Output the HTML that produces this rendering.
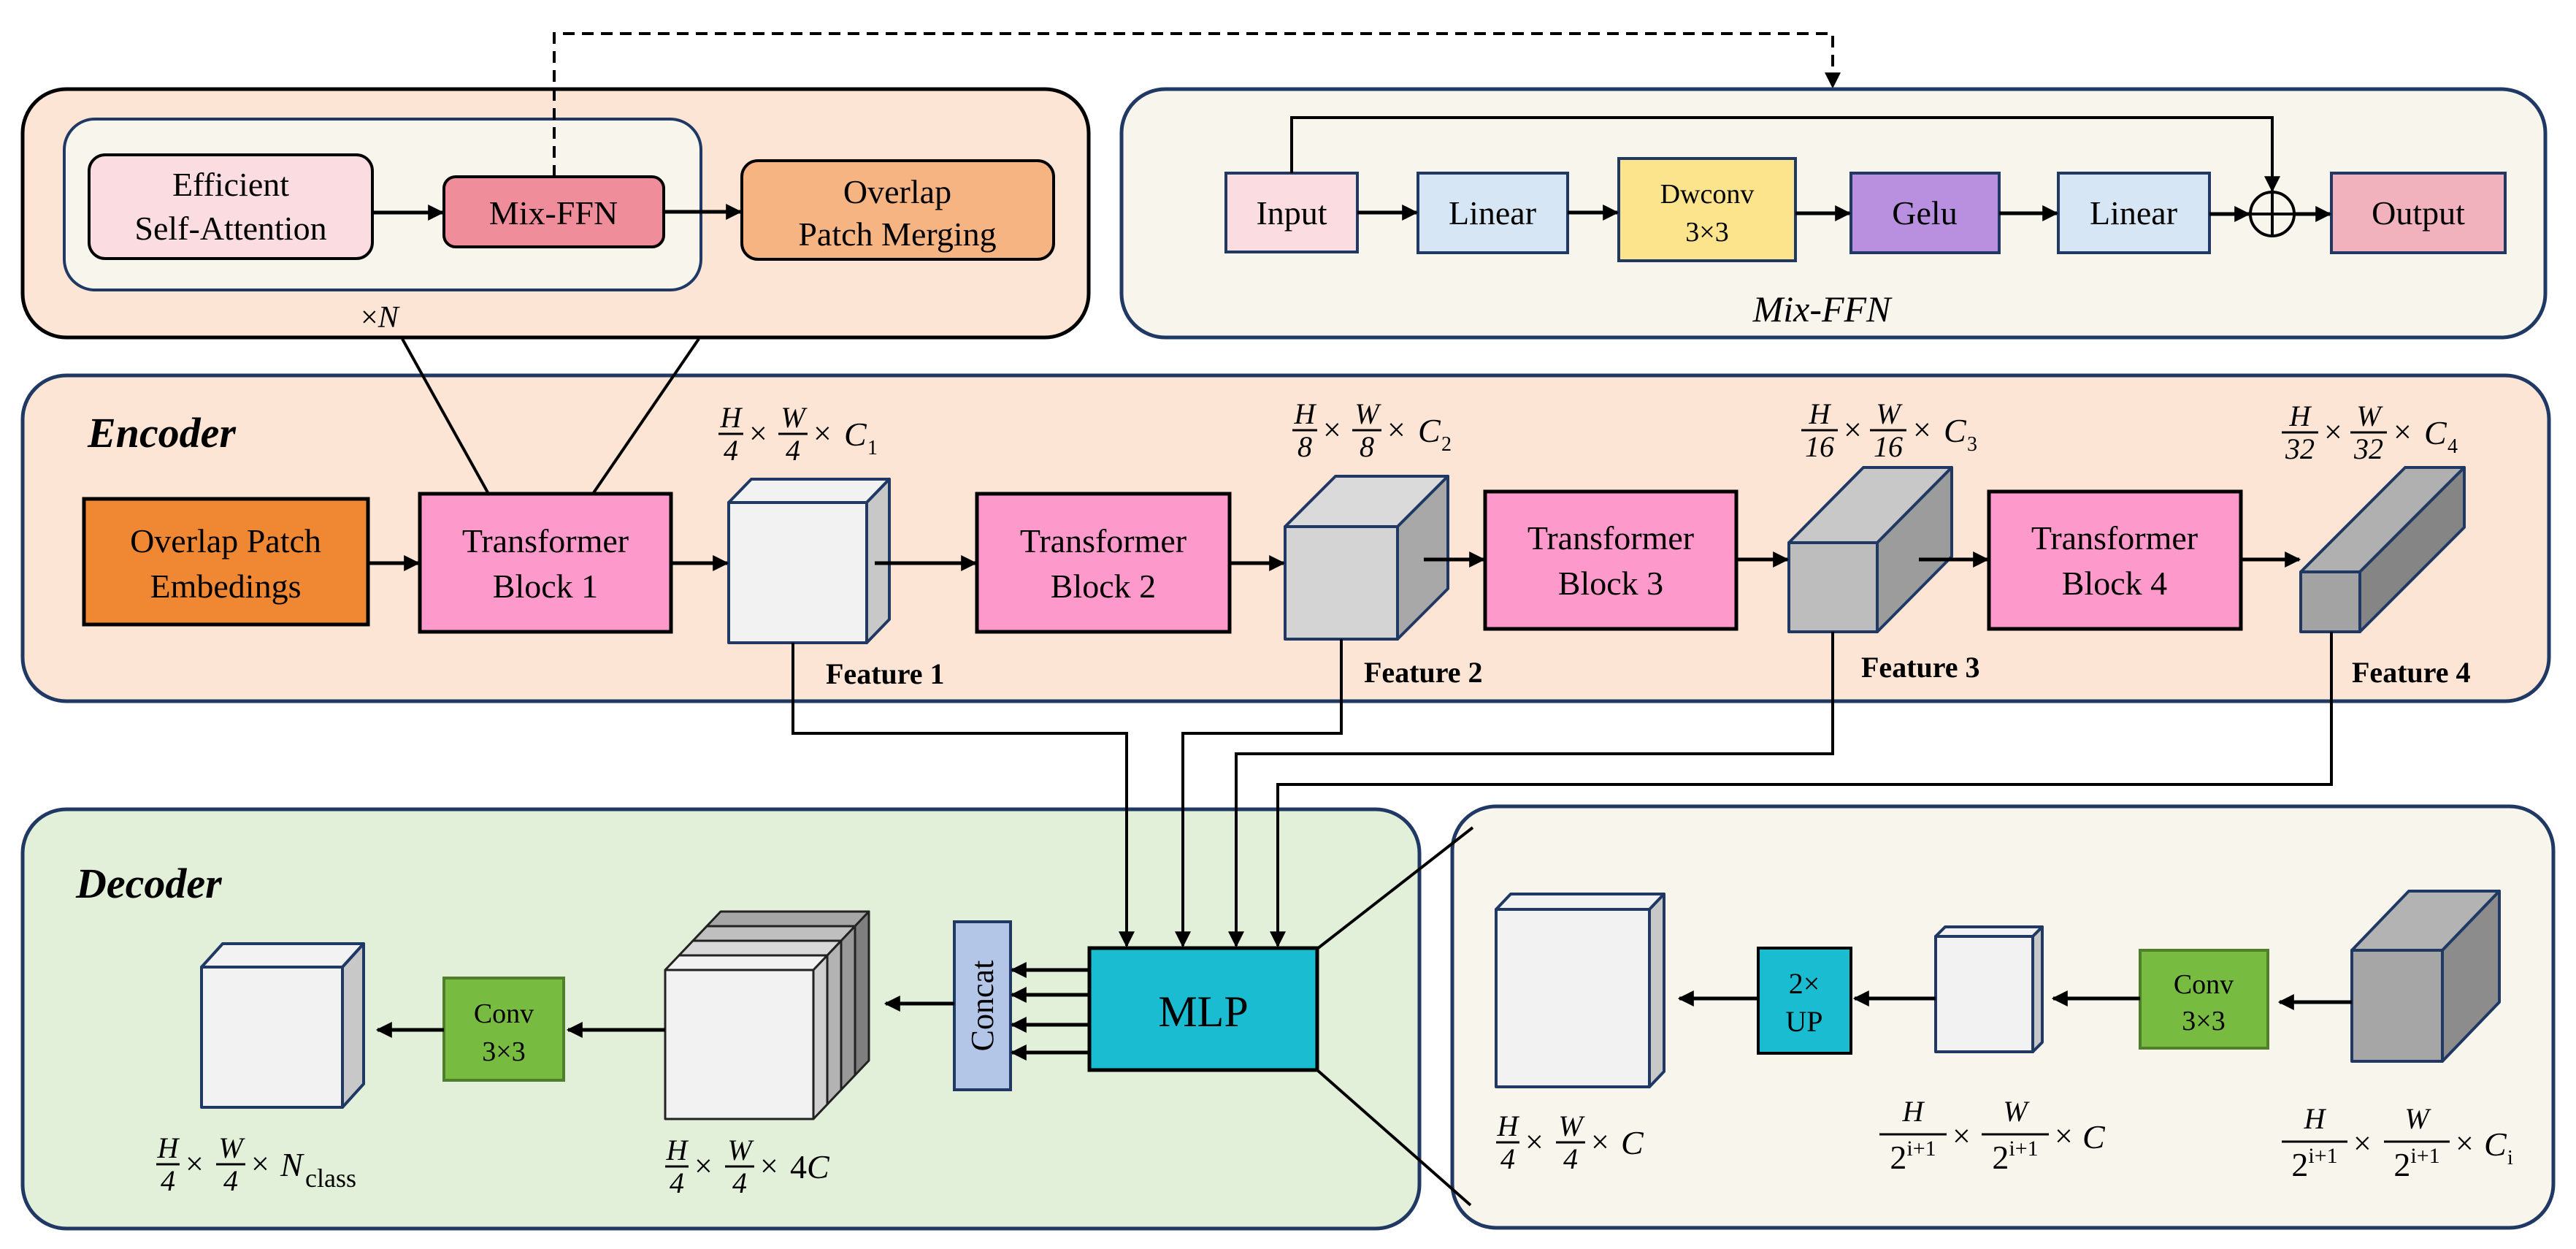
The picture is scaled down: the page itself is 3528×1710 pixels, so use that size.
<!DOCTYPE html>
<html><head><meta charset="utf-8"><style>
html,body{margin:0;padding:0;background:#fff}
svg{display:block;font-family:"Liberation Serif",serif}
text{font-family:"Liberation Serif",serif;fill:#000}
.b{font-size:46px}
.m{font-style:italic;font-size:40px}
.x{font-size:44px}
.c{font-style:italic;font-size:46px}
.s{font-size:28px}
.f{font-weight:bold;font-size:40px}
</style></head><body>
<svg width="3528" height="1710" viewBox="0 0 3528 1710" xmlns="http://www.w3.org/2000/svg" font-family="Liberation Serif, serif">
<defs>
<marker id="a" viewBox="0 0 10 10" refX="9" refY="5" markerWidth="22" markerHeight="22" markerUnits="userSpaceOnUse" orient="auto"><path d="M0,0 L10,5 L0,10 z" fill="#000"/></marker>
</defs>

<!-- Top-left block -->
<rect x="31" y="122" width="1460" height="340" rx="60" fill="#fce5d4" stroke="#000" stroke-width="5"/>
<rect x="88" y="163" width="872" height="234" rx="42" fill="#f8f5ec" stroke="#1f3864" stroke-width="4"/>
<rect x="122" y="212" width="388" height="142" rx="22" fill="#fbdce1" stroke="#000" stroke-width="4"/>
<text class="b" x="316" y="268" text-anchor="middle">Efficient</text>
<text class="b" x="316" y="328" text-anchor="middle">Self-Attention</text>
<rect x="608" y="242" width="301" height="96" rx="16" fill="#ef8d9b" stroke="#000" stroke-width="4"/>
<text class="b" x="758" y="307" text-anchor="middle">Mix-FFN</text>
<rect x="1016" y="220" width="427" height="135" rx="22" fill="#f6b482" stroke="#000" stroke-width="4"/>
<text class="b" x="1229" y="278" text-anchor="middle">Overlap</text>
<text class="b" x="1229" y="336" text-anchor="middle">Patch Merging</text>
<line x1="510" y1="291" x2="606" y2="291" stroke="#000" stroke-width="5" marker-end="url(#a)"/>
<line x1="909" y1="290" x2="1014" y2="290" stroke="#000" stroke-width="5" marker-end="url(#a)"/>
<text x="494" y="448" font-size="42">×<tspan font-style="italic">N</tspan></text>

<!-- dashed -->
<polyline points="759,242 759,46 2510,46 2510,119" fill="none" stroke="#000" stroke-width="4" stroke-dasharray="16,10" marker-end="url(#a)"/>

<!-- Mix-FFN block -->
<rect x="1536" y="122" width="1950" height="340" rx="60" fill="#f8f5ec" stroke="#1f3864" stroke-width="5"/>
<rect x="1679" y="237" width="180" height="108" fill="#fbdce1" stroke="#1f3864" stroke-width="4"/>
<text class="b" x="1769" y="307" text-anchor="middle">Input</text>
<rect x="1942" y="237" width="205" height="109" fill="#d6e6f5" stroke="#1f3864" stroke-width="4"/>
<text class="b" x="2044" y="307" text-anchor="middle">Linear</text>
<rect x="2217" y="217" width="242" height="140" fill="#fce48d" stroke="#1f3864" stroke-width="4"/>
<text x="2338" y="278" text-anchor="middle" font-size="38">Dwconv</text>
<text x="2338" y="330" text-anchor="middle" font-size="38">3×3</text>
<rect x="2535" y="237" width="203" height="109" fill="#b98fdf" stroke="#1f3864" stroke-width="4"/>
<text class="b" x="2636" y="307" text-anchor="middle">Gelu</text>
<rect x="2819" y="237" width="207" height="109" fill="#d6e6f5" stroke="#1f3864" stroke-width="4"/>
<text class="b" x="2922" y="307" text-anchor="middle">Linear</text>
<circle cx="3112" cy="293" r="30" fill="none" stroke="#000" stroke-width="4"/>
<line x1="3082" y1="293" x2="3142" y2="293" stroke="#000" stroke-width="4"/>
<line x1="3112" y1="263" x2="3112" y2="323" stroke="#000" stroke-width="4"/>
<rect x="3193" y="237" width="238" height="109" fill="#f2b2bd" stroke="#1f3864" stroke-width="4"/>
<text class="b" x="3312" y="307" text-anchor="middle">Output</text>
<line x1="1859" y1="291" x2="1940" y2="291" stroke="#000" stroke-width="5" marker-end="url(#a)"/>
<line x1="2147" y1="291" x2="2215" y2="291" stroke="#000" stroke-width="5" marker-end="url(#a)"/>
<line x1="2459" y1="292" x2="2533" y2="292" stroke="#000" stroke-width="5" marker-end="url(#a)"/>
<line x1="2738" y1="292" x2="2817" y2="292" stroke="#000" stroke-width="5" marker-end="url(#a)"/>
<line x1="3026" y1="293" x2="3080" y2="293" stroke="#000" stroke-width="5" marker-end="url(#a)"/>
<line x1="3142" y1="293" x2="3191" y2="293" stroke="#000" stroke-width="5" marker-end="url(#a)"/>
<polyline points="1769,237 1769,161 3112,161 3112,261" fill="none" stroke="#000" stroke-width="4" marker-end="url(#a)"/>
<text x="2495" y="440" text-anchor="middle" font-size="50" font-style="italic">Mix-FFN</text>

<!-- Encoder -->
<rect x="31" y="514" width="3460" height="446" rx="60" fill="#fce5d4" stroke="#1f3864" stroke-width="5"/>
<text x="120" y="612" font-size="58" font-weight="bold" font-style="italic">Encoder</text>
<line x1="551" y1="464" x2="669" y2="676" stroke="#000" stroke-width="4"/>
<line x1="957" y1="464" x2="812" y2="676" stroke="#000" stroke-width="4"/>
<rect x="115" y="683" width="389" height="172" fill="#f08733" stroke="#000" stroke-width="5"/>
<text class="b" x="309" y="756" text-anchor="middle">Overlap Patch</text>
<text class="b" x="309" y="818" text-anchor="middle">Embedings</text>
<rect x="575" y="676" width="344" height="189" fill="#fd99cb" stroke="#000" stroke-width="5"/>
<text class="b" x="747" y="756" text-anchor="middle">Transformer</text>
<text class="b" x="747" y="818" text-anchor="middle">Block 1</text>
<rect x="1338" y="676" width="346" height="189" fill="#fd99cb" stroke="#000" stroke-width="5"/>
<text class="b" x="1511" y="756" text-anchor="middle">Transformer</text>
<text class="b" x="1511" y="818" text-anchor="middle">Block 2</text>
<rect x="2034" y="673" width="344" height="188" fill="#fd99cb" stroke="#000" stroke-width="5"/>
<text class="b" x="2206" y="752" text-anchor="middle">Transformer</text>
<text class="b" x="2206" y="814" text-anchor="middle">Block 3</text>
<rect x="2724" y="673" width="345" height="188" fill="#fd99cb" stroke="#000" stroke-width="5"/>
<text class="b" x="2896" y="752" text-anchor="middle">Transformer</text>
<text class="b" x="2896" y="814" text-anchor="middle">Block 4</text>

<g stroke="#1f3864" stroke-width="4" stroke-linejoin="round">
<polygon points="998,688 1029,656 1218,656 1187,688" fill="#f2f2f2"/>
<polygon points="1187,688 1218,656 1218,848 1187,880" fill="#c8c8c8"/>
<rect x="998" y="688" width="189" height="192" fill="#f2f2f2"/>
<polygon points="1760,721 1829,652 1983,652 1914,721" fill="#dadada"/>
<polygon points="1914,721 1983,652 1983,806 1914,875" fill="#a8a8a8"/>
<rect x="1760" y="721" width="154" height="154" fill="#d4d4d4"/>
<polygon points="2450,743 2552,640 2673,640 2571,743" fill="#c8c8c8"/>
<polygon points="2571,743 2673,640 2673,762 2571,865" fill="#9c9c9c"/>
<rect x="2450" y="743" width="121" height="122" fill="#bdbdbd"/>
<polygon points="3151,783 3294,640 3375,640 3232,783" fill="#b0b0b0"/>
<polygon points="3232,783 3375,640 3375,722 3232,865" fill="#858585"/>
<rect x="3151" y="783" width="81" height="82" fill="#a3a3a3"/>
</g>

<line x1="504" y1="771" x2="573" y2="771" stroke="#000" stroke-width="5" marker-end="url(#a)"/>
<line x1="919" y1="771" x2="996" y2="771" stroke="#000" stroke-width="5" marker-end="url(#a)"/>
<line x1="1198" y1="771" x2="1336" y2="771" stroke="#000" stroke-width="5" marker-end="url(#a)"/>
<line x1="1684" y1="771" x2="1758" y2="771" stroke="#000" stroke-width="5" marker-end="url(#a)"/>
<line x1="1950" y1="766" x2="2032" y2="766" stroke="#000" stroke-width="5" marker-end="url(#a)"/>
<line x1="2378" y1="766" x2="2448" y2="766" stroke="#000" stroke-width="5" marker-end="url(#a)"/>
<line x1="2628" y1="766" x2="2722" y2="766" stroke="#000" stroke-width="5" marker-end="url(#a)"/>
<line x1="3069" y1="766" x2="3149" y2="766" stroke="#000" stroke-width="5" marker-end="url(#a)"/>

<text class="f" x="1131" y="936">Feature 1</text>
<text class="f" x="1868" y="934">Feature 2</text>
<text class="f" x="2549" y="927">Feature 3</text>
<text class="f" x="3221" y="934">Feature 4</text>

<g>
<text class="m" x="1001" y="585" text-anchor="middle">H</text><line x1="984" y1="594" x2="1018" y2="594" stroke="#000" stroke-width="3"/><text class="m" x="1001" y="630" text-anchor="middle" font-style="normal">4</text>
<text class="x" x="1026" y="608">×</text>
<text class="m" x="1086" y="585" text-anchor="middle">W</text><line x1="1066" y1="594" x2="1106" y2="594" stroke="#000" stroke-width="3"/><text class="m" x="1086" y="630" text-anchor="middle" font-style="normal">4</text>
<text class="x" x="1114" y="608">×</text>
<text class="c" x="1156" y="610">C</text><text class="s" x="1188" y="622">1</text>
</g>
<g>
<text class="m" x="1787" y="580" text-anchor="middle">H</text><line x1="1770" y1="589" x2="1804" y2="589" stroke="#000" stroke-width="3"/><text class="m" x="1787" y="625" text-anchor="middle" font-style="normal">8</text>
<text class="x" x="1812" y="603">×</text>
<text class="m" x="1872" y="580" text-anchor="middle">W</text><line x1="1852" y1="589" x2="1892" y2="589" stroke="#000" stroke-width="3"/><text class="m" x="1872" y="625" text-anchor="middle" font-style="normal">8</text>
<text class="x" x="1900" y="603">×</text>
<text class="c" x="1942" y="605">C</text><text class="s" x="1974" y="617">2</text>
</g>
<g>
<text class="m" x="2492" y="580" text-anchor="middle">H</text><line x1="2467" y1="589" x2="2517" y2="589" stroke="#000" stroke-width="3"/><text class="m" x="2492" y="625" text-anchor="middle" font-style="normal">16</text>
<text class="x" x="2525" y="603">×</text>
<text class="m" x="2586" y="580" text-anchor="middle">W</text><line x1="2561" y1="589" x2="2611" y2="589" stroke="#000" stroke-width="3"/><text class="m" x="2586" y="625" text-anchor="middle" font-style="normal">16</text>
<text class="x" x="2620" y="603">×</text>
<text class="c" x="2662" y="605">C</text><text class="s" x="2694" y="617">3</text>
</g>
<g>
<text class="m" x="3150" y="583" text-anchor="middle">H</text><line x1="3125" y1="592" x2="3175" y2="592" stroke="#000" stroke-width="3"/><text class="m" x="3150" y="628" text-anchor="middle" font-style="normal">32</text>
<text class="x" x="3183" y="606">×</text>
<text class="m" x="3244" y="583" text-anchor="middle">W</text><line x1="3219" y1="592" x2="3269" y2="592" stroke="#000" stroke-width="3"/><text class="m" x="3244" y="628" text-anchor="middle" font-style="normal">32</text>
<text class="x" x="3278" y="606">×</text>
<text class="c" x="3320" y="608">C</text><text class="s" x="3352" y="620">4</text>
</g>

<!-- Decoder -->
<rect x="31" y="1108" width="1913" height="574" rx="60" fill="#e2efd9" stroke="#1f3864" stroke-width="5"/>
<rect x="1989" y="1104" width="1508" height="577" rx="60" fill="#f8f5ec" stroke="#1f3864" stroke-width="5"/>
<text x="104" y="1229" font-size="58" font-weight="bold" font-style="italic">Decoder</text>

<polyline points="1086,880 1086,1004 1543,1004 1543,1295" fill="none" stroke="#000" stroke-width="4" marker-end="url(#a)"/>
<polyline points="1837,875 1837,1004 1620,1004 1620,1295" fill="none" stroke="#000" stroke-width="4" marker-end="url(#a)"/>
<polyline points="2510,865 2510,1032 1693,1032 1693,1295" fill="none" stroke="#000" stroke-width="4" marker-end="url(#a)"/>
<polyline points="3193,865 3193,1074 1750,1074 1750,1295" fill="none" stroke="#000" stroke-width="4" marker-end="url(#a)"/>

<rect x="1492" y="1298" width="312" height="167" fill="#19bcd0" stroke="#000" stroke-width="5"/>
<text x="1648" y="1405" text-anchor="middle" font-size="60">MLP</text>
<rect x="1307" y="1262" width="77" height="230" fill="#b4c6e7" stroke="#1f3864" stroke-width="4"/>
<text x="1360" y="1377" text-anchor="middle" font-size="44" transform="rotate(-90 1360 1377)">Concat</text>
<line x1="1492" y1="1328" x2="1386" y2="1328" stroke="#000" stroke-width="5" marker-end="url(#a)"/>
<line x1="1492" y1="1362" x2="1386" y2="1362" stroke="#000" stroke-width="5" marker-end="url(#a)"/>
<line x1="1492" y1="1403" x2="1386" y2="1403" stroke="#000" stroke-width="5" marker-end="url(#a)"/>
<line x1="1492" y1="1441" x2="1386" y2="1441" stroke="#000" stroke-width="5" marker-end="url(#a)"/>
<line x1="1307" y1="1374" x2="1213" y2="1374" stroke="#000" stroke-width="5" marker-end="url(#a)"/>

<g stroke="#222" stroke-width="3" stroke-linejoin="round">
<polygon points="968,1268 987,1248 1190,1248 1171,1268" fill="#a6a6a6"/>
<polygon points="1171,1268 1190,1248 1190,1452 1171,1472" fill="#7f7f7f"/>
<polygon points="949,1288 968,1268 1171,1268 1152,1288" fill="#bfbfbf"/>
<polygon points="1152,1288 1171,1268 1171,1472 1152,1492" fill="#999"/>
<polygon points="930,1308 949,1288 1152,1288 1133,1308" fill="#d9d9d9"/>
<polygon points="1133,1308 1152,1288 1152,1492 1133,1512" fill="#b3b3b3"/>
<polygon points="911,1328 930,1308 1133,1308 1114,1328" fill="#f2f2f2"/>
<polygon points="1114,1328 1133,1308 1133,1512 1114,1532" fill="#d0d0d0"/>
<rect x="911" y="1328" width="203" height="204" fill="#f2f2f2"/>
</g>
<line x1="911" y1="1410" x2="778" y2="1410" stroke="#000" stroke-width="5" marker-end="url(#a)"/>
<rect x="608" y="1339" width="164" height="140" fill="#77bb41" stroke="#4f7f2a" stroke-width="4"/>
<text x="690" y="1400" text-anchor="middle" font-size="38">Conv</text>
<text x="690" y="1452" text-anchor="middle" font-size="38">3×3</text>
<line x1="608" y1="1410" x2="517" y2="1410" stroke="#000" stroke-width="5" marker-end="url(#a)"/>
<g stroke="#1f3864" stroke-width="4" stroke-linejoin="round">
<polygon points="276,1324 305,1292 498,1292 469,1324" fill="#f2f2f2"/>
<polygon points="469,1324 498,1292 498,1484 469,1516" fill="#c8c8c8"/>
<rect x="276" y="1324" width="193" height="192" fill="#f2f2f2"/>
</g>
<g>
<text class="m" x="230" y="1585" text-anchor="middle">H</text><line x1="214" y1="1594" x2="246" y2="1594" stroke="#000" stroke-width="3"/><text class="m" x="230" y="1630" text-anchor="middle" font-style="normal">4</text>
<text class="x" x="254" y="1608">×</text>
<text class="m" x="316" y="1585" text-anchor="middle">W</text><line x1="296" y1="1594" x2="336" y2="1594" stroke="#000" stroke-width="3"/><text class="m" x="316" y="1630" text-anchor="middle" font-style="normal">4</text>
<text class="x" x="344" y="1608">×</text>
<text class="c" x="384" y="1610">N</text><text x="418" y="1625" font-size="36">class</text>
</g>
<g>
<text class="m" x="927" y="1588" text-anchor="middle">H</text><line x1="911" y1="1597" x2="943" y2="1597" stroke="#000" stroke-width="3"/><text class="m" x="927" y="1633" text-anchor="middle" font-style="normal">4</text>
<text class="x" x="951" y="1611">×</text>
<text class="m" x="1013" y="1588" text-anchor="middle">W</text><line x1="993" y1="1597" x2="1033" y2="1597" stroke="#000" stroke-width="3"/><text class="m" x="1013" y="1633" text-anchor="middle" font-style="normal">4</text>
<text class="x" x="1041" y="1611">×</text>
<text x="1082" y="1613" font-size="46">4<tspan font-style="italic">C</tspan></text>
</g>

<line x1="1804" y1="1299" x2="2017" y2="1133" stroke="#000" stroke-width="4"/>
<line x1="1804" y1="1465" x2="2014" y2="1650" stroke="#000" stroke-width="4"/>

<g stroke="#1f3864" stroke-width="4" stroke-linejoin="round">
<polygon points="2049,1245 2069,1224 2279,1224 2259,1245" fill="#f2f2f2"/>
<polygon points="2259,1245 2279,1224 2279,1467 2259,1488" fill="#c8c8c8"/>
<rect x="2049" y="1245" width="210" height="243" fill="#f2f2f2"/>
<polygon points="2651,1282 2664,1269 2797,1269 2784,1282" fill="#f2f2f2"/>
<polygon points="2784,1282 2797,1269 2797,1427 2784,1440" fill="#c8c8c8"/>
<rect x="2651" y="1282" width="133" height="158" fill="#f2f2f2"/>
<polygon points="3221,1301 3299,1220 3423,1220 3345,1301" fill="#b3b3b3"/>
<polygon points="3345,1301 3423,1220 3423,1372 3345,1453" fill="#8c8c8c"/>
<rect x="3221" y="1301" width="124" height="152" fill="#a6a6a6"/>
</g>
<rect x="2408" y="1298" width="127" height="144" fill="#19bcd0" stroke="#000" stroke-width="4"/>
<text x="2471" y="1360" text-anchor="middle" font-size="40">2×</text>
<text x="2471" y="1412" text-anchor="middle" font-size="40">UP</text>
<rect x="2931" y="1301" width="175" height="134" fill="#77bb41" stroke="#4f7f2a" stroke-width="4"/>
<text x="3018" y="1360" text-anchor="middle" font-size="38">Conv</text>
<text x="3018" y="1410" text-anchor="middle" font-size="38">3×3</text>
<line x1="2408" y1="1367" x2="2300" y2="1367" stroke="#000" stroke-width="5" marker-end="url(#a)"/>
<line x1="2651" y1="1367" x2="2540" y2="1367" stroke="#000" stroke-width="5" marker-end="url(#a)"/>
<line x1="2931" y1="1367" x2="2812" y2="1367" stroke="#000" stroke-width="5" marker-end="url(#a)"/>
<line x1="3221" y1="1372" x2="3122" y2="1372" stroke="#000" stroke-width="5" marker-end="url(#a)"/>

<g>
<text class="m" x="2065" y="1555" text-anchor="middle">H</text><line x1="2049" y1="1564" x2="2081" y2="1564" stroke="#000" stroke-width="3"/><text class="m" x="2065" y="1600" text-anchor="middle" font-style="normal">4</text>
<text class="x" x="2089" y="1578">×</text>
<text class="m" x="2151" y="1555" text-anchor="middle">W</text><line x1="2131" y1="1564" x2="2171" y2="1564" stroke="#000" stroke-width="3"/><text class="m" x="2151" y="1600" text-anchor="middle" font-style="normal">4</text>
<text class="x" x="2179" y="1578">×</text>
<text class="c" x="2220" y="1580">C</text>
</g>
<g>
<text class="m" x="2620" y="1535" text-anchor="middle" font-size="46">H</text><line x1="2574" y1="1553" x2="2666" y2="1553" stroke="#000" stroke-width="3"/><text x="2620" y="1600" text-anchor="middle" font-size="46">2<tspan font-size="30" dy="-18">i+1</tspan></text>
<text class="x" x="2674" y="1570">×</text>
<text class="m" x="2760" y="1535" text-anchor="middle" font-size="46">W</text><line x1="2714" y1="1553" x2="2806" y2="1553" stroke="#000" stroke-width="3"/><text x="2760" y="1600" text-anchor="middle" font-size="46">2<tspan font-size="30" dy="-18">i+1</tspan></text>
<text class="x" x="2814" y="1570">×</text>
<text class="c" x="2852" y="1572">C</text>
</g>
<g>
<text class="m" x="3170" y="1545" text-anchor="middle" font-size="46">H</text><line x1="3125" y1="1563" x2="3215" y2="1563" stroke="#000" stroke-width="3"/><text x="3170" y="1610" text-anchor="middle" font-size="46">2<tspan font-size="30" dy="-18">i+1</tspan></text>
<text class="x" x="3223" y="1580">×</text>
<text class="m" x="3310" y="1545" text-anchor="middle" font-size="46">W</text><line x1="3265" y1="1563" x2="3355" y2="1563" stroke="#000" stroke-width="3"/><text x="3310" y="1610" text-anchor="middle" font-size="46">2<tspan font-size="30" dy="-18">i+1</tspan></text>
<text class="x" x="3363" y="1580">×</text>
<text class="c" x="3402" y="1582">C</text><text class="s" x="3434" y="1594">i</text>
</g>
</svg>
</body></html>
